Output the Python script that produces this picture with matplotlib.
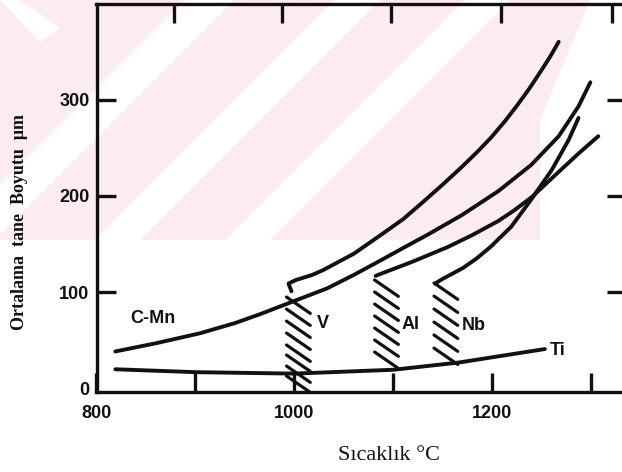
import matplotlib.pyplot as plt
from matplotlib.patches import Polygon

# grain size curves (temperature in C, size in um)
cmn_t = [819, 860, 905, 940, 966, 1000, 1033, 1060, 1087, 1110, 1135, 1169, 1206,
         1239, 1267, 1287, 1299]
cmn_d = [38.5, 47, 57.5, 68, 77.5, 91, 104, 118, 133, 146, 160, 180, 205, 232, 262,
         293, 318]

v_t = [997, 994, 1001, 1018, 1029, 1060, 1088, 1110, 1128, 1150, 1169, 1185, 1199,
       1213, 1225, 1237, 1248, 1258, 1267]
v_d = [101, 109, 112.5, 118, 123, 140, 160, 176, 192, 212, 230, 246, 261, 278, 294,
       311, 328, 344, 360]

al_t = [1082, 1092, 1120, 1155, 1179, 1206, 1222, 1240, 1267, 1287, 1307]
al_d = [117, 121, 132, 147, 159, 174, 185, 199, 225, 244, 262]

nb_t = [1142, 1150, 1170, 1184, 1198, 1219, 1239, 1260, 1277, 1287]
nb_d = [109, 114, 125, 135, 147, 168, 196, 227, 258, 281]

ti_t = [819, 900, 1000, 1100, 1166, 1253]
ti_d = [20, 17, 15.5, 19.5, 27, 41]

# hatched bands (left edge temperature, start of each stroke)
hatch_left = {'V': 992, 'Al': 1081, 'Nb': 1141}
hatch_tops = {'V': [95, 82.5, 70, 57.6, 45.2, 34.8, 23.4, 13],
              'Al': [112.7, 100.2, 87.7, 75.3, 62.8, 50.4, 37.9],
              'Nb': [109.6, 96, 82.6, 69, 55.6, 42]}

labels = ['C-Mn', 'V', 'Al', 'Nb', 'Ti']
label_t = [857, 1029, 1117, 1181, 1266]
label_d = [73, 68, 66, 65, 40]

x_ticks = [800, 900, 1000, 1100, 1200, 1300]
x_ticklabels = ['800', '', '1000', '', '1200', '']
top_ticks = [878, 987, 1098, 1209, 1321]
y_ticks = [0, 100, 200, 300]

W, H = 622, 472
fig = plt.figure(figsize=(W / 100, H / 100), dpi=100)

# faint pink watermark behind the upper half of the scan
def fpoly(pts, **kw):
    p = Polygon([(x / W, 1 - y / H) for x, y in pts], closed=True,
                transform=fig.transFigure, lw=0, zorder=-10, **kw)
    fig.patches.append(p)

pink = '#fdecef'
fpoly([(0, 0), (W, 0), (W, 240), (0, 240)], color=pink)
for c0, c1 in [(185, 235), (335, 380), (465, 510)]:
    fpoly([(c0, 0), (c1, 0), (c1 - 240, 240), (c0 - 240, 240)], color='white')
fpoly([(590, 0), (W, 0), (W, 240), (540, 240), (540, 120)], color='white')
fpoly([(0, 0), (20, 0), (60, 28), (40, 42)], color='white')

ax = fig.add_axes([96.5 / W, 80 / H, (626 - 96.5) / W, (392 - 4) / H])
ax.set_facecolor('none')
ax.set_xlim(800, 1335)
ax.set_ylim(-3.6, 399.3)

ink = '#111111'
kw = dict(color=ink, lw=2.8, solid_capstyle='round', solid_joinstyle='round')
ax.plot(cmn_t, cmn_d, **kw)
ax.plot(v_t, v_d, **kw)
ax.plot(al_t, al_d, **kw)
ax.plot(nb_t, nb_d, **kw)
ax.plot(ti_t, ti_d, **kw)

for key, x0 in hatch_left.items():
    for y0 in hatch_tops[key]:
        ax.plot([x0, x0 + 24], [y0, y0 - 17], color=ink, lw=2.3, solid_capstyle='round')

for s, t, d in zip(labels, label_t, label_d):
    ax.text(t, d, s, ha='center', va='center', fontsize=13, fontweight='bold',
            family='Liberation Sans', color=ink)

for sp in ax.spines.values():
    sp.set_linewidth(2.4)
    sp.set_color(ink)

ax.set_xticks(x_ticks)
ax.set_xticklabels(x_ticklabels)
ax.set_yticks(y_ticks)
ax.tick_params(direction='in', length=14, width=2.4, color=ink, labelsize=13,
               right=True, labelcolor=ink)
ax.tick_params(axis='x', pad=9)
ax.tick_params(axis='y', pad=5)
for lab in ax.get_xticklabels() + ax.get_yticklabels():
    lab.set_fontweight('bold')
    lab.set_family('Liberation Sans')
# no tick marks at the corners
for t in (ax.yaxis.get_major_ticks()[0], ax.xaxis.get_major_ticks()[0]):
    t.tick1line.set_visible(False)
    t.tick2line.set_visible(False)

ax2 = ax.twiny()
ax2.set_xlim(ax.get_xlim())
ax2.set_xticks(top_ticks)
ax2.tick_params(direction='in', length=14, width=2.4, color=ink, labeltop=False)
for sp in ax2.spines.values():
    sp.set_visible(False)

fig.text(20 / W, 1 - 222 / H, 'Ortalama  tane  Boyutu  μm', rotation=90,
         ha='center', va='center', family='Liberation Serif', fontweight='bold',
         fontsize=13, color=ink)
fig.text(389 / W, 1 - 456 / H, 'Sıcaklık °C', ha='center', va='center',
         family='Liberation Serif', fontsize=16, color=ink)

fig.savefig('out.png', dpi=100)
